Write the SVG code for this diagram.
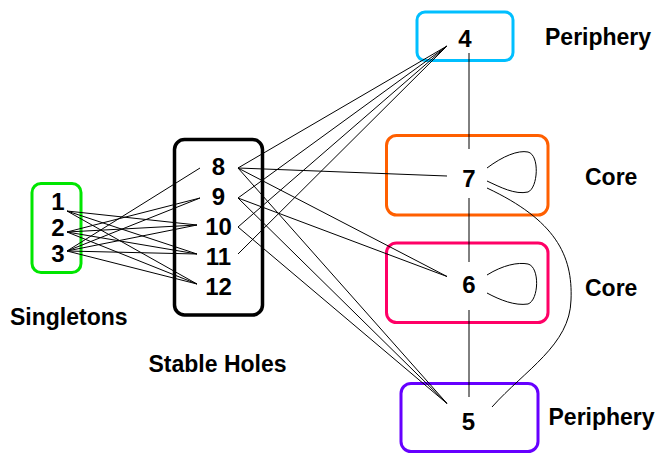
<svg xmlns="http://www.w3.org/2000/svg" width="668" height="453" viewBox="0 0 668 453">
<style>
.box{fill:none;stroke-width:3}
.num{font-family:"Liberation Sans",Arial,sans-serif;font-weight:bold;font-size:24px;text-anchor:middle;fill:#000}
.lbl{font-family:"Liberation Sans",Arial,sans-serif;font-weight:bold;font-size:23px;fill:#000}
.e{fill:none;stroke:#000;stroke-width:1}
</style>
<rect width="668" height="453" fill="#fff"/>
<g id="singletons">
<rect class="box" x="32" y="183.5" width="49" height="89" rx="9" stroke="#00E600"/>
<text class="num" x="58" y="210">1</text>
<text class="num" x="58" y="236">2</text>
<text class="num" x="58" y="261.5">3</text>
<text class="lbl" x="10" y="325">Singletons</text>
</g>
<g id="stable-holes">
<rect x="174.5" y="139.5" width="88" height="175.5" rx="10" fill="none" stroke="#000" stroke-width="3.5"/>
<text class="num" x="218.5" y="175">8</text>
<text class="num" x="218.5" y="205">9</text>
<text class="num" x="218.5" y="235">10</text>
<text class="num" x="218.5" y="265">11</text>
<text class="num" x="218.5" y="295">12</text>
<text class="lbl" x="148.5" y="371.5">Stable Holes</text>
</g>
<g id="node4">
<rect class="box" x="417" y="12" width="96" height="48.5" rx="8" stroke="#00BFFF"/>
<text class="num" x="465" y="46.5">4</text>
<text class="lbl" x="545" y="45">Periphery</text>
</g>
<g id="node7">
<rect class="box" x="386.5" y="135.5" width="161.5" height="79.5" rx="10" stroke="#FF5F00"/>
<text class="num" x="469" y="186.5">7</text>
<text class="lbl" x="585" y="185">Core</text>
</g>
<g id="node6">
<rect class="box" x="386.5" y="243" width="161.5" height="79.5" rx="10" stroke="#FF0066"/>
<text class="num" x="469" y="293">6</text>
<text class="lbl" x="585" y="296">Core</text>
</g>
<g id="node5">
<rect class="box" x="401" y="383.5" width="137" height="68" rx="10" stroke="#6600FF"/>
<text class="num" x="468.5" y="430">5</text>
<text class="lbl" x="548.5" y="425">Periphery</text>
</g>
<g id="connectors">
<path class="e" d="M67,211L197,225M67,211L197,254M67,211L197,284"/>
<path class="e" d="M67,232L200,198M67,232L197,225M67,232L197,254M67,232L197,284"/>
<path class="e" d="M67,251L200,168M67,251L200,198M67,251L197,225M67,251L197,254M67,251L197,284"/>
<path class="e" d="M238,168L447,46M238,198L447,46M238,227L447,46M238,254L447,46"/>
<path class="e" d="M238,168L447,176M238,168L447,276.5M238,198L447,276.5"/>
<path class="e" d="M238,168L447,403.5M238,198L447,403.5M238,227L447,403.5"/>
<path class="e" d="M469,53V149M469,198V262M469,310V397"/>
<path class="e" d="M487,168C503,156 518,150 528,152C540,155 538,188 528,192C515,195 500,187 487,181"/>
<path class="e" d="M487,275C503,265 518,262 528,264C540,267 539,300 528,304C515,306 500,300 487,293"/>
<path class="e" d="M487,188C555,220 573,255 571,300C570,345 525,370 492,407"/>
</g>
</svg>
